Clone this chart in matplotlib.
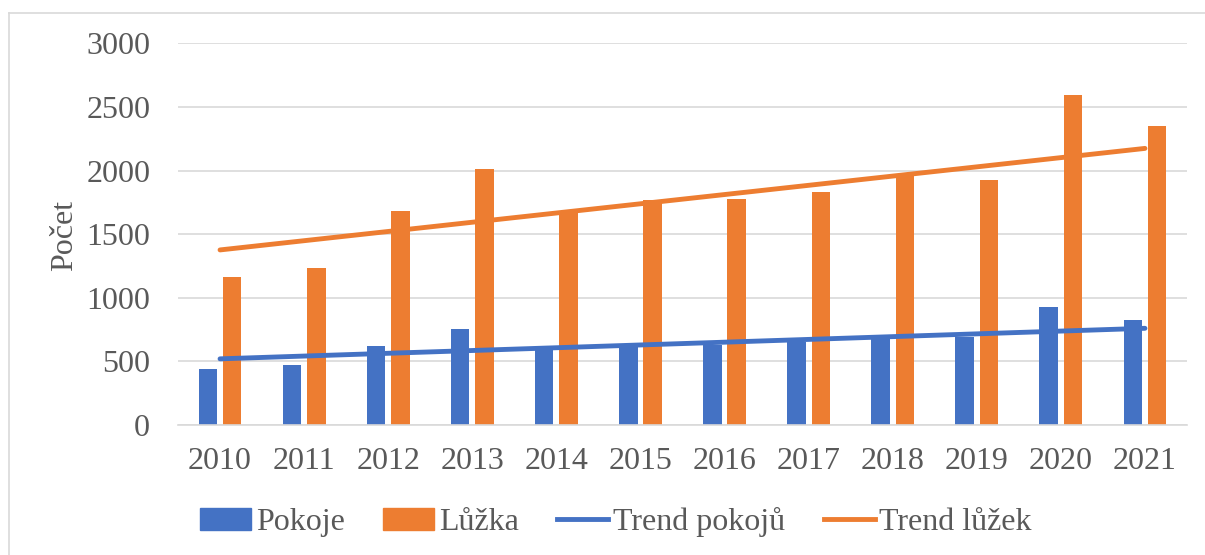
import matplotlib.pyplot as plt
from matplotlib.lines import Line2D
from matplotlib.patches import Patch
import numpy as np

plt.rcParams['font.family'] = ['Liberation Serif', 'DejaVu Serif']

years = ['2010', '2011', '2012', '2013', '2014', '2015',
         '2016', '2017', '2018', '2019', '2020', '2021']
pokoje = [440, 470, 623, 755, 600, 615, 630, 650, 673, 694, 931, 826]
luzka = [1160, 1235, 1683, 2014, 1667, 1772, 1778, 1835, 1956, 1922, 2595, 2350]

# trend lines (start / end)
trend_idx = [0, 11]
trend_pokoje = [520, 760]
trend_luzka = [1376, 2174]

blue = '#4472C4'
orange = '#ED7D31'
txt = '#595959'

fig = plt.figure(figsize=(12.05, 5.55), dpi=100)
ax = fig.add_axes([178/1205, 130/555, 1009/1205, (425-43.3)/555])

x = np.arange(len(years))
w = 0.22
ax.bar(x - 0.145, pokoje, w, color=blue, zorder=2)
ax.bar(x + 0.145, luzka, w, color=orange, zorder=2)
ax.plot(trend_idx, trend_pokoje, color=blue, lw=3.5, solid_capstyle='round', zorder=3)
ax.plot(trend_idx, trend_luzka, color=orange, lw=3.5, solid_capstyle='round', zorder=3)

ax.set_xlim(-0.5, 11.5)
ax.set_ylim(0, 3000)
ax.set_yticks(range(0, 3001, 500))
ax.set_xticks(x)
ax.set_xticklabels(years)
ax.yaxis.grid(True, color='#d9d9d9', lw=1.2, zorder=0)
ax.set_axisbelow(True)
for s in ['top', 'right', 'left']:
    ax.spines[s].set_visible(False)
ax.spines['bottom'].set_color('#d9d9d9')
ax.spines['bottom'].set_linewidth(1.2)
ax.tick_params(axis='both', length=0, labelsize=23, labelcolor=txt)
ax.tick_params(axis='y', pad=20)
ax.tick_params(axis='x', pad=16)

fig.text(65/1205, 1 - 235/555, 'Počet', rotation=90, ha='center', va='center',
         fontsize=23, color=txt)

handles = [Patch(color=blue), Patch(color=orange),
           Line2D([], [], color=blue, lw=3.5), Line2D([], [], color=orange, lw=3.5)]
labels = ['Pokoje', 'Lůžka', 'Trend pokojů', 'Trend lůžek']
leg = fig.legend(handles, labels, loc='center', bbox_to_anchor=(616/1205, 33/555),
                 ncol=4, frameon=False, fontsize=23, handlelength=1.6,
                 handletextpad=0.15, columnspacing=1.2)
for t in leg.get_texts():
    t.set_color(txt)

# chart border (left and top visible)
fig.add_artist(Line2D([9/1205, 9/1205], [0, 1 - 13/555], color='#d9d9d9', lw=1.2,
                      transform=fig.transFigure))
fig.add_artist(Line2D([9/1205, 1], [1 - 13/555, 1 - 13/555], color='#d9d9d9', lw=1.2,
                      transform=fig.transFigure))

fig.savefig('out.png', dpi=100)
